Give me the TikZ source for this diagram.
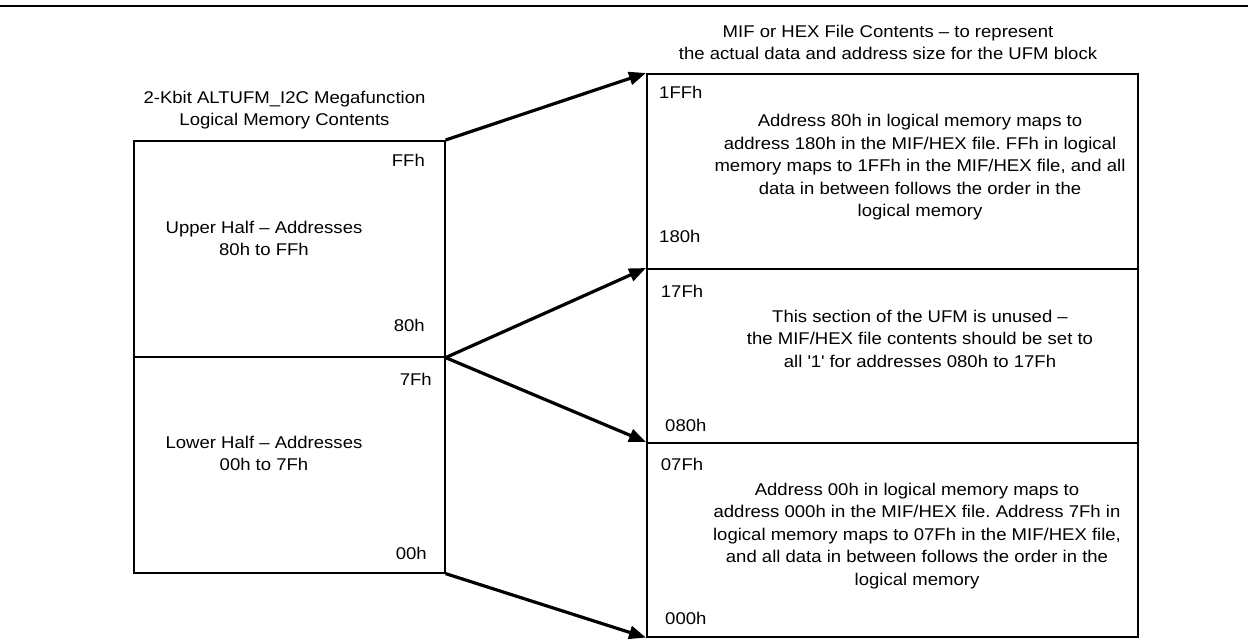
\documentclass[tikz,border=0pt]{standalone}
\usepackage{fontspec}
\setmainfont{Liberation Sans}[FakeStretch=1.09]
\usetikzlibrary{arrows.meta}
\frenchspacing
\begin{document}
\begin{tikzpicture}[x=1pt,y=-1pt,
  box/.style={draw, line width=1.6pt, inner sep=0pt, anchor=north west},
  txt/.style={font=\fontsize{17}{22.5}\selectfont\frenchspacing, inner sep=0pt, align=center},
  arr/.style={line width=3.2pt, -{Triangle[length=17pt,width=13pt]}}]
\useasboundingbox (0,0) rectangle (1248,640);
% top rule
\coordinate (ruleL) at (0,6);
\coordinate (ruleR) at (1248,6);
\draw[line width=2.6pt] (ruleL) -- (ruleR);

% left boxes
\node[box, minimum width=311pt, minimum height=216pt] (up) at (133,140) {};
\node[box, minimum width=311pt, minimum height=216pt] (lo) at (133,356) {};

% right boxes
\node[box, minimum width=491pt, minimum height=195pt] (r1) at (646,73) {};
\node[box, minimum width=491pt, minimum height=174pt] (r2) at (646,268) {};
\node[box, minimum width=491pt, minimum height=194pt] (r3) at (646,442) {};

% titles
\node[txt] (ltitle) at (284.5,110) {2-Kbit ALTUFM\_I2C Megafunction\\Logical Memory Contents};
\node[txt] (rtitle) at (888,42.5) {MIF or HEX File Contents -- to represent\\the actual data and address size for the UFM block};

% left labels
\node[txt, anchor=east] (ffh) at (425,160) {FFh};
\node[txt] (uptxt) at (264,238.3) {Upper Half -- Addresses\\80h to FFh};
\node[txt, anchor=east] (h80) at (425,325) {80h};
\node[txt, anchor=east] (h7f) at (432,379.3) {7Fh};
\node[txt] (lotxt) at (264,453.3) {Lower Half -- Addresses\\00h to 7Fh};
\node[txt, anchor=east] (h00) at (427,553.3) {00h};

% right labels
\node[txt, anchor=west] (h1ff) at (659,92.7) {1FFh};
\node[txt] (b1) at (920,167.5) {Address 80h in logical memory maps to\\address 180h in the MIF/HEX file. FFh in logical\\memory maps to 1FFh in the MIF/HEX file, and all\\data in between follows the order in the\\logical memory};
\node[txt, anchor=west] (h180) at (659,236.7) {180h};
\node[txt, anchor=west] (h17f) at (660.7,291.7) {17Fh};
\node[txt] (b2) at (920,338.5) {This section of the UFM is unused --\\the MIF/HEX file contents should be set to\\all \textquotesingle1\textquotesingle{} for addresses 080h to 17Fh};
\node[txt, anchor=west] (h080) at (665,425) {080h};
\node[txt, anchor=west] (h07f) at (660.7,464) {07Fh};
\node[txt] (b3) at (917,535.8) {Address 00h in logical memory maps to\\address 000h in the MIF/HEX file. Address 7Fh in\\logical memory maps to 07Fh in the MIF/HEX file,\\and all data in between follows the order in the\\logical memory};
\node[txt, anchor=west] (h000) at (665,618.3) {000h};

% arrows
\draw[arr] (up.north east) -- (r1.north west);
\draw[arr] (up.south east) -- (r2.north west);
\draw[arr] (up.south east) -- (r3.north west);
\draw[arr] (lo.south east) -- (r3.south west);
\end{tikzpicture}
\end{document}
